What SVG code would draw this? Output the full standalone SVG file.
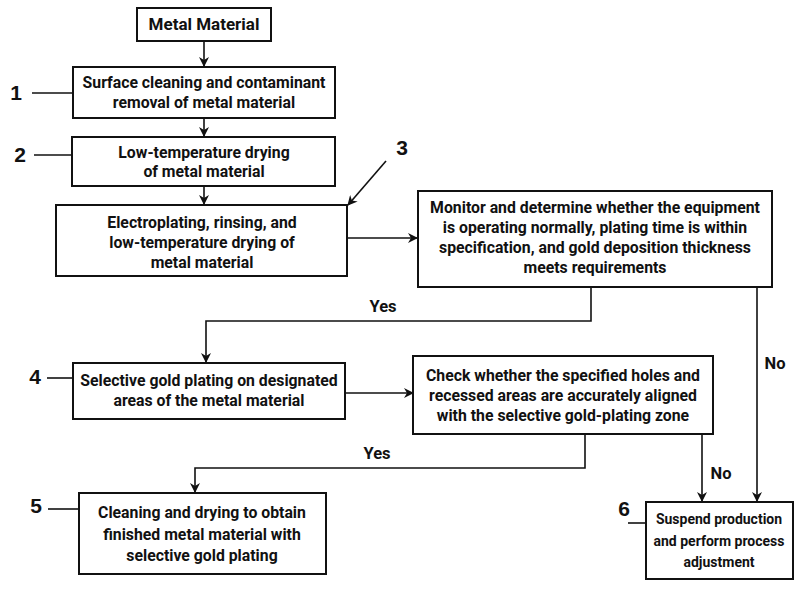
<svg xmlns="http://www.w3.org/2000/svg" width="800" height="593" viewBox="0 0 800 593">
<defs>
<marker id="ah" markerWidth="10" markerHeight="10" refX="9" refY="5" orient="auto" markerUnits="userSpaceOnUse">
<path d="M0,0 L10,5 L0,10 L3,5 Z" fill="#111"/>
</marker>
<style>
.box{fill:#fff;stroke:#111;stroke-width:2}
.t{font-family:Roboto,"Liberation Sans",sans-serif;font-weight:bold;font-size:15.8px;fill:#111;text-anchor:middle}
.s{font-size:14px}
.num{font-family:"Liberation Sans",Roboto,sans-serif;font-weight:bold;font-size:21px;fill:#111;text-anchor:middle}
.lbl{font-family:Roboto,"Liberation Sans",sans-serif;font-weight:bold;font-size:16.5px;fill:#111;text-anchor:middle}
.ln{fill:none;stroke:#111;stroke-width:1.6}
.arr{fill:none;stroke:#111;stroke-width:1.6;marker-end:url(#ah)}
</style>
</defs>
<rect width="800" height="593" fill="#fff"/>
<g id="connectors">
<path class="arr" d="M204,41 V66"/>
<path class="arr" d="M204,118 V136"/>
<path class="arr" d="M204,186 V204"/>
<path class="arr" d="M347,238 H417"/>
<path class="arr" d="M591,287 V321 H206 V362"/>
<path class="arr" d="M345,393 H413"/>
<path class="arr" d="M585,434 V468 H195 V492"/>
<path class="arr" d="M702,434 V501"/>
<path class="arr" d="M757,287 V501"/>
<path class="arr" d="M386,161 L348,205"/>
<path class="ln" d="M32,93 H73"/>
<path class="ln" d="M34,155 H72"/>
<path class="ln" d="M47,378 H73"/>
<path class="ln" d="M48,509 H79"/>
<path class="ln" d="M628,523 H646"/>
<text class="lbl" x="383" y="312">Yes</text>
<text class="lbl" x="377" y="459">Yes</text>
<text class="lbl" x="775" y="369">No</text>
<text class="lbl" x="721" y="479">No</text>
</g>
<g id="n0">
<rect class="box" x="137" y="8" width="134" height="33"/>
<text class="t" x="204" y="30" style="font-size:17px">Metal Material</text>
</g>
<g id="n1">
<rect class="box" x="73" y="67" width="262" height="51"/>
<text class="t" x="204" y="88">Surface cleaning and contaminant</text>
<text class="t" x="204" y="108">removal of metal material</text>
<text class="num" x="16" y="100">1</text>
</g>
<g id="n2">
<rect class="box" x="72" y="137" width="263" height="49"/>
<text class="t" x="204" y="158">Low-temperature drying</text>
<text class="t" x="204" y="177">of metal material</text>
<text class="num" x="20" y="162">2</text>
</g>
<g id="n3">
<rect class="box" x="56" y="205" width="291" height="71"/>
<text class="t" x="202" y="228">Electroplating, rinsing, and</text>
<text class="t" x="202" y="248">low-temperature drying of</text>
<text class="t" x="202" y="268">metal material</text>
<text class="num" x="402" y="155">3</text>
</g>
<g id="n4">
<rect class="box" x="418" y="191" width="354" height="96"/>
<text class="t" x="595" y="213">Monitor and determine whether the equipment</text>
<text class="t" x="595" y="233">is operating normally, plating time is within</text>
<text class="t" x="595" y="253">specification, and gold deposition thickness</text>
<text class="t" x="595" y="273">meets requirements</text>
</g>
<g id="n5">
<rect class="box" x="73" y="363" width="272" height="56"/>
<text class="t" x="209" y="386">Selective gold plating on designated</text>
<text class="t" x="209" y="406">areas of the metal material</text>
<text class="num" x="35" y="384">4</text>
</g>
<g id="n6">
<rect class="box" x="413" y="356" width="300" height="78"/>
<text class="t" x="563" y="381">Check whether the specified holes and</text>
<text class="t" x="563" y="401">recessed areas are accurately aligned</text>
<text class="t" x="563" y="421">with the selective gold-plating zone</text>
</g>
<g id="n7">
<rect class="box" x="79" y="493" width="247" height="81"/>
<text class="t" x="202" y="518">Cleaning and drying to obtain</text>
<text class="t" x="202" y="540">finished metal material with</text>
<text class="t" x="202" y="561">selective gold plating</text>
<text class="num" x="36" y="513">5</text>
</g>
<g id="n8">
<rect class="box" x="646" y="502" width="147" height="77"/>
<text class="t s" x="719" y="524">Suspend production</text>
<text class="t s" x="719" y="546">and perform process</text>
<text class="t s" x="719" y="567">adjustment</text>
<text class="num" x="624" y="516">6</text>
</g>
</svg>
